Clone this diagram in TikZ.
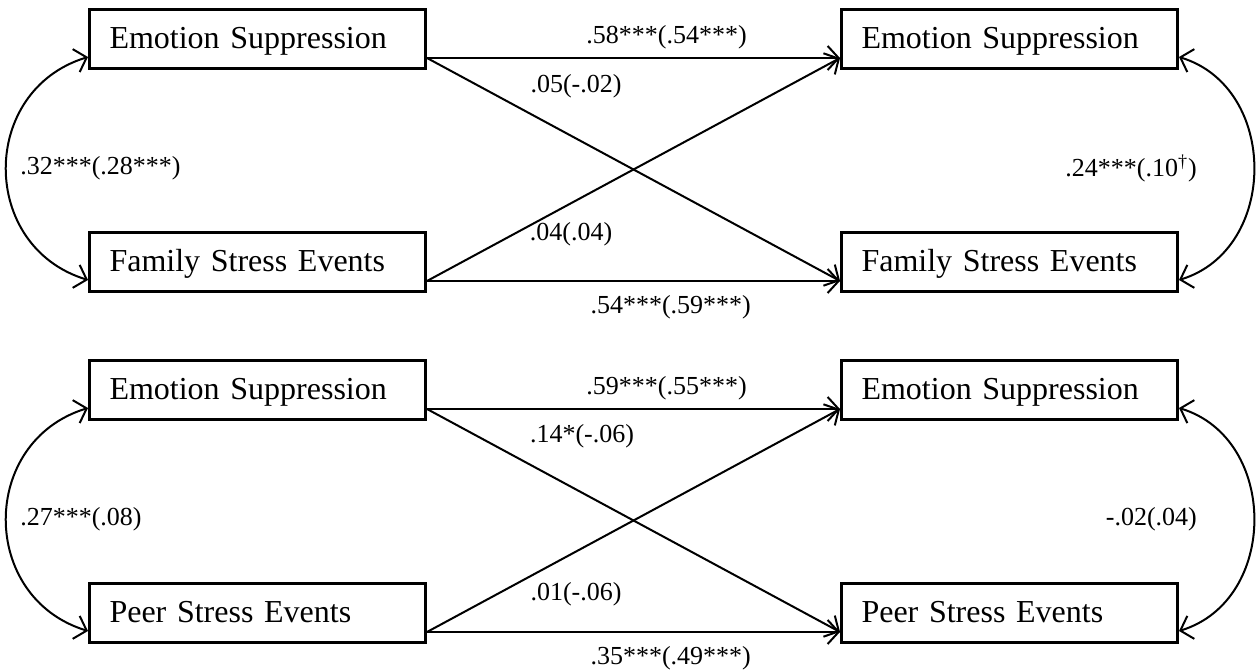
\documentclass[tikz,border=0pt]{standalone}
\usepackage{fontspec}
\setmainfont{Liberation Serif}
\usetikzlibrary{arrows.meta, positioning}

\begin{document}
\begin{tikzpicture}[
    x=0.5pt, y=-0.5pt,
    varbox/.style={rectangle, draw, line width=1.5pt, minimum width=168pt, minimum height=29.5pt, inner xsep=10pt, text width=148pt, align=left, text height=12pt, text depth=2pt, font=\fontsize{16}{19}\selectfont},
    coef/.style={inner sep=2pt, font=\fontsize{13}{15}\selectfont},
    arrow/.style={-{Straight Barb[length=5.5pt, width=12pt]}, line width=1pt},
    cov/.style={{Straight Barb[length=5.5pt, width=12pt]}-{Straight Barb[length=5.5pt, width=12pt]}, line width=1pt},
]
\useasboundingbox (0,0) rectangle (1257,672);

% family stress model
\node[varbox] (es1) at (257.5,39) {Emotion Suppression};
\node[varbox, below=80.5pt of es1] (fs1) {Family Stress Events};
\node[varbox, right=206.5pt of es1] (es2) {Emotion Suppression};
\node[varbox, right=206.5pt of fs1] (fs2) {Family Stress Events};

\draw[arrow] ([yshift=-9.5pt]es1.east) -- node[coef, above=2pt, pos=.58] (b11) {.58***(.54***)} ([yshift=-9.5pt]es2.west);
\draw[arrow] ([yshift=-9.5pt]es1.east) -- ([yshift=-9.5pt]fs2.west);
\draw[arrow] ([yshift=-9.5pt]fs1.east) -- ([yshift=-9.5pt]es2.west);
\draw[arrow] ([yshift=-9.5pt]fs1.east) -- node[coef, below=4.5pt, pos=.59] (b22) {.54***(.59***)} ([yshift=-9.5pt]fs2.west);
\node[coef] (b12) at (576,86) {.05(-.02)};
\node[coef] (b21) at (571,234) {.04(.04)};

\draw[cov] ([yshift=-9pt]es1.west) to[out=197, in=163, looseness=1.31] node[coef, right=4.5pt] (r1) {.32***(.28***)} ([yshift=-9pt]fs1.west);
\draw[cov] ([yshift=-9pt]es2.east) to[out=-17, in=17, looseness=1.2] node[coef, left=26pt] (r2) {.24***(.10\textsuperscript{\textdagger})} ([yshift=-9pt]fs2.east);

% peer stress model
\node[varbox, below=33pt of fs1] (es3) {Emotion Suppression};
\node[varbox, below=80.5pt of es3] (ps3) {Peer Stress Events};
\node[varbox, right=206.5pt of es3] (es4) {Emotion Suppression};
\node[varbox, right=206.5pt of ps3] (ps4) {Peer Stress Events};

\draw[arrow] ([yshift=-9.5pt]es3.east) -- node[coef, above=2pt, pos=.58] (b33) {.59***(.55***)} ([yshift=-9.5pt]es4.west);
\draw[arrow] ([yshift=-9.5pt]es3.east) -- ([yshift=-9.5pt]ps4.west);
\draw[arrow] ([yshift=-9.5pt]ps3.east) -- ([yshift=-9.5pt]es4.west);
\draw[arrow] ([yshift=-9.5pt]ps3.east) -- node[coef, below=4.5pt, pos=.59] (b44) {.35***(.49***)} ([yshift=-9.5pt]ps4.west);
\node[coef] (b34) at (582,436) {.14*(-.06)};
\node[coef] (b43) at (576,594) {.01(-.06)};

\draw[cov] ([yshift=-9pt]es3.west) to[out=197, in=163, looseness=1.31] node[coef, right=4.5pt] (r3) {.27***(.08)} ([yshift=-9pt]ps3.west);
\draw[cov] ([yshift=-9pt]es4.east) to[out=-17, in=17, looseness=1.2] node[coef, left=26pt] (r4) {-.02(.04)} ([yshift=-9pt]ps4.east);

\end{tikzpicture}
\end{document}
